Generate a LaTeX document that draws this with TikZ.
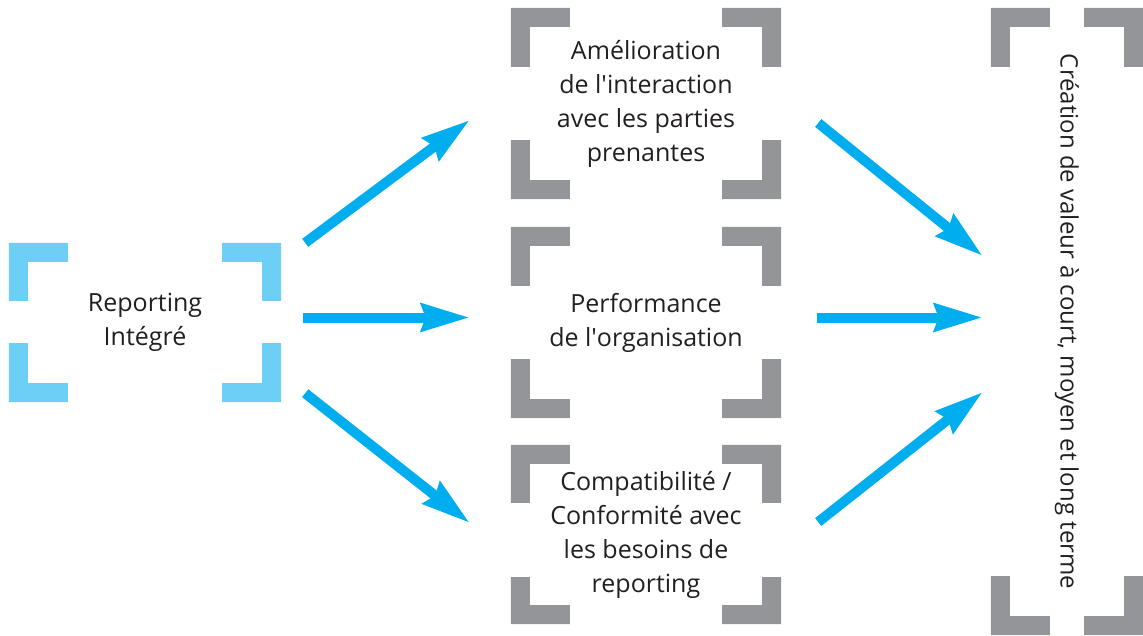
\documentclass[tikz,border=0pt]{standalone}
\usepackage{fontspec}
\setmainfont{Open Sans}
\usetikzlibrary{arrows.meta,calc}
\definecolor{lightblue}{RGB}{109,207,246}
\definecolor{flowblue}{RGB}{0,174,239}
\definecolor{cornergray}{RGB}{147,149,152}
\definecolor{textdark}{RGB}{35,31,32}
\tikzstyle{box}=[minimum width=270pt, inner sep=0pt, align=center, text=textdark, font=\fontsize{25}{34}\selectfont]
\tikzstyle{flow}=[line width=10pt, flowblue, -{Stealth[length=48pt,width=27pt,inset=4pt]}]
% four L-shaped corners round a node: name, colour, upper arm, lower arm
\newcommand{\corners}[4]{%
  \fill[#2] (#1.north west) -- ++(59,0) -- ++(0,19) -- ++(-40,0) -- ++(0,#3-19) -- ++(-19,0) -- cycle;
  \fill[#2] (#1.north east) -- ++(-59,0) -- ++(0,19) -- ++(40,0) -- ++(0,#3-19) -- ++(19,0) -- cycle;
  \fill[#2] (#1.south west) -- ++(59,0) -- ++(0,-19) -- ++(-40,0) -- ++(0,-#4+19) -- ++(-19,0) -- cycle;
  \fill[#2] (#1.south east) -- ++(-59,0) -- ++(0,-19) -- ++(40,0) -- ++(0,-#4+19) -- ++(19,0) -- cycle;
}
\newcommand{\q}{\textquotesingle}

\begin{document}
\begin{tikzpicture}[x=1pt,y=-1pt]
        \useasboundingbox (0,0) rectangle (1143,635);
        \node [box,minimum width=272pt,minimum height=159pt] (rep) at (145,322.5) {Reporting\\Intégré};
        \node [box,minimum height=191pt] (inter) at (646,103.5) {Amélioration\\de l\q interaction\\avec les parties\\prenantes};
        \node [box,minimum height=191pt] (perf) at (646,322.5) {Performance\\de l\q organisation};
        \node [box,minimum height=179pt] (compat) at (646,534.5) {Compatibilité /\\Conformité avec\\les besoins de\\reporting};
        \node [box,minimum width=152pt,minimum height=627pt] (valeur) at (1067,321.5) {};
        \node [box,rotate=-90,anchor=center,font=\fontsize{24}{34}\selectfont] (valtext) at (valeur.center) {Création de valeur à court, moyen et long terme};
        \corners{rep}{lightblue}{58}{59}
        \corners{inter}{cornergray}{59}{59}
        \corners{perf}{cornergray}{59}{59}
        \corners{compat}{cornergray}{58}{47}
        \corners{valeur}{cornergray}{59}{59}
        \draw[flow] ($(rep.north east)+(24,0)$) -- ($(inter.west)+(-41,16.5)$);
        \draw[flow] ($(rep.east)+(22,-5)$) -- ($(perf.west)+(-41,-5)$);
        \draw[flow] ($(rep.south east)+(24,-9)$) -- ($(compat.west)+(-41,-11.5)$);
        \draw[flow] ($(inter.east)+(37,19.5)$) -- ($(valeur.west)+(-8,-65.5)$);
        \draw[flow] ($(perf.east)+(36,-5)$) -- ($(valeur.west)+(-8,-4)$);
        \draw[flow] ($(compat.east)+(37,-12.5)$) -- ($(valeur.west)+(-8,70.5)$);
    \end{tikzpicture}
\end{document}
